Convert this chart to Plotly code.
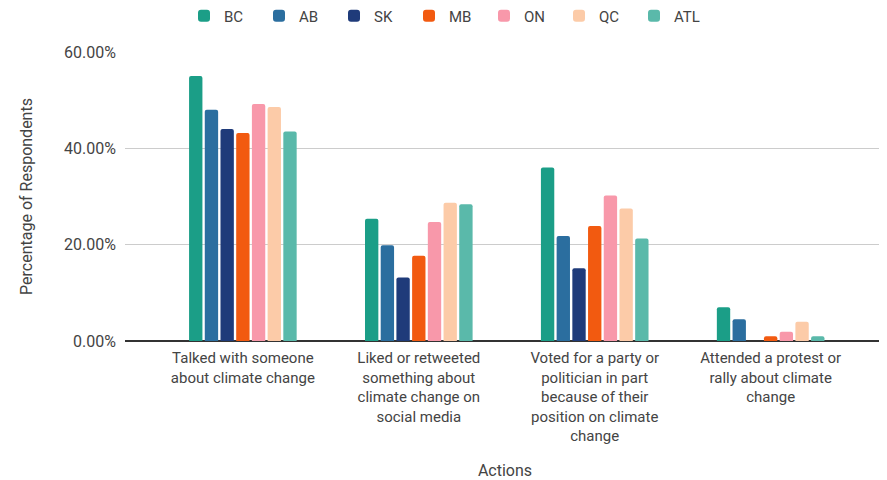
import plotly.graph_objects as go

categories = [
    "Talked with someone<br>about climate change",
    "Liked or retweeted<br>something about<br>climate change on<br>social media",
    "Voted for a party or<br>politician in part<br>because of their<br>position on climate<br>change",
    "Attended a protest or<br>rally about climate<br>change",
]

regions = ["BC", "AB", "SK", "MB", "ON", "QC", "ATL"]

bc = [55.0, 25.4, 36.0, 7.0]
ab = [48.0, 19.9, 21.8, 4.5]
sk = [44.0, 13.2, 15.1, 0.0]
mb = [43.2, 17.7, 23.9, 1.0]
on = [49.2, 24.7, 30.2, 1.9]
qc = [48.6, 28.7, 27.5, 4.0]
atl = [43.5, 28.4, 21.3, 1.0]

series = [bc, ab, sk, mb, on, qc, atl]
colors = ["#1b9e87", "#2b6e9f", "#1f3b7a", "#f25a10", "#f898aa", "#fccba8", "#5ab9aa"]

y_ticks = [0, 0.2, 0.4, 0.6]

fig = go.Figure()
for name, vals, col in zip(regions, series, colors):
    fig.add_trace(go.Bar(
        name=name,
        x=list(range(len(categories))),
        y=[v / 100 for v in vals],
        marker=dict(color=col, line=dict(width=0), cornerradius=2),
    ))

font_family = "Roboto, 'Noto Sans', sans-serif"
txt = "#444444"
# the page body adds an 8px offset, so the figure box is shrunk/shifted by 8px
W, H = 879, 472
fig.update_layout(
    width=W, height=H,
    margin=dict(l=117, r=2, t=44, b=139, autoexpand=False),
    paper_bgcolor="white", plot_bgcolor="white",
    barmode="group", bargap=0.375, bargroupgap=0.15,
    font=dict(family=font_family, size=16, color=txt),
    legend=dict(orientation="h", xref="container", x=176 / W, xanchor="left",
                yref="container", y=1 - 8 / H, yanchor="middle",
                font=dict(size=15, color=txt),
                itemwidth=30, entrywidth=30, traceorder="normal",
                bgcolor="rgba(0,0,0,0)"),
    xaxis=dict(
        tickmode="array", tickvals=list(range(len(categories))), ticktext=categories,
        range=[-0.67, 3.65], showgrid=False, ticks="", showline=False,
        tickfont=dict(size=15, color=txt), ticklabelstandoff=6,
        title=dict(text="Actions", standoff=20, font=dict(size=16, color=txt)),
        automargin=False,
    ),
    yaxis=dict(
        range=[0, 0.6], tickvals=y_ticks, tickformat=".2%",
        showgrid=True, gridcolor="#cccccc", gridwidth=1,
        zeroline=True, zerolinecolor="#333333", zerolinewidth=1.5,
        ticks="", ticklabelstandoff=8,
        tickfont=dict(size=16, color=txt),
        title=dict(text="Percentage of Respondents", standoff=27, font=dict(size=16, color=txt)),
        automargin=False,
    ),
)

fig.write_html("out.html")
